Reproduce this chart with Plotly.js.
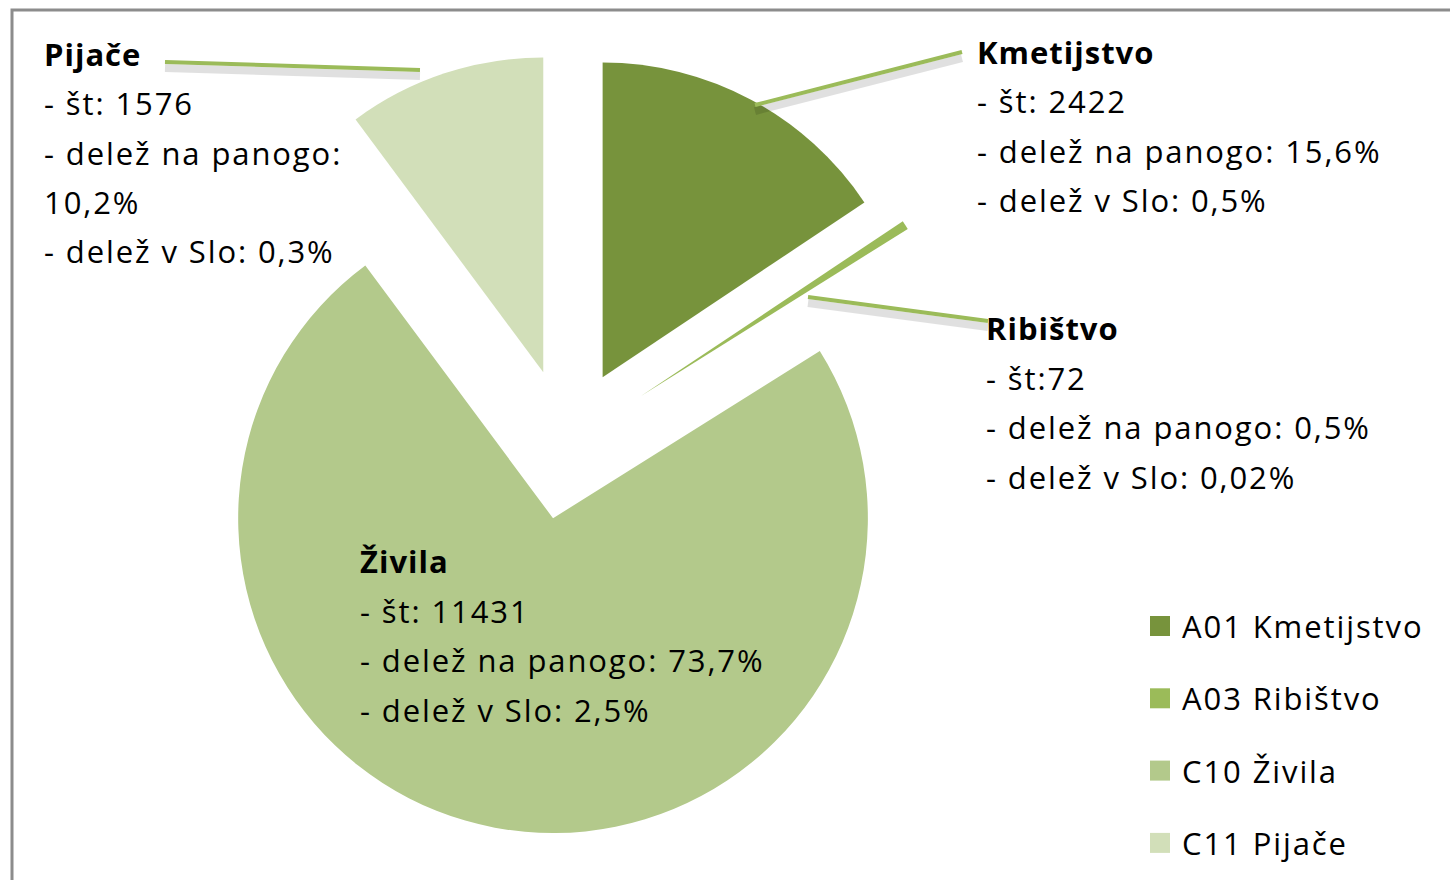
<!DOCTYPE html>
<html>
<head>
<meta charset="utf-8">
<script src="https://cdn.plot.ly/plotly-3.0.1.min.js"></script>
<style>
html,body{margin:0;padding:0;background:#fff;}
#chart{width:1450px;height:880px;}
.annotation-text{letter-spacing:1.9px;}
.annotation-text tspan[style*="bold"]{letter-spacing:1px;}
</style>
</head>
<body>
<div id="chart"></div>
<script>
// ---- data ----
const legendLabels = ['A01 Kmetijstvo', 'A03 Ribištvo', 'C10 Živila', 'C11 Pijače'];
const shortNames = ['Kmetijstvo', 'Ribištvo', 'Živila', 'Pijače'];
const counts = [2422, 72, 11431, 1576];
const shareSector = ['15,6%', '0,5%', '73,7%', '10,2%'];
const shareSlo = ['0,5%', '0,02%', '2,5%', '0,3%'];

// ---- styles ----
const colors = ['#77933c', '#9bbb59', '#b3c98b', '#d2dfb9'];
const pulls = [0.24, 0.28, 0.24, 0.24];
const FONT = '"Open Sans", "Noto Sans", sans-serif';
const FS = 31;
const W = 1450, H = 880;
const px = x => x / W;
const py = y => 1 - y / H;

// label blocks: left x, first line y, line spacing (pixels)
const labelPos = [
  {x: 975, y: 52, dy: 49.3},
  {x: 984, y: 328, dy: 49.7},
  {x: 358, y: 561, dy: 49.7},
  {x: 42, y: 54, dy: 49.3}
];

function labelLines(i) {
  const stSep = i === 1 ? '' : ' ';
  const lines = ['<b>' + shortNames[i] + '</b>', '- št:' + stSep + counts[i]];
  if (i === 3) {
    lines.push('- delež na panogo:');
    lines.push(shareSector[i]);
  } else {
    lines.push('- delež na panogo: ' + shareSector[i]);
  }
  lines.push('- delež v Slo: ' + shareSlo[i]);
  return lines;
}

const annotations = [];
shortNames.forEach((n, i) => {
  const p = labelPos[i];
  labelLines(i).forEach((t, k) => {
    annotations.push({
      xref: 'paper', yref: 'paper', x: px(p.x), y: py(p.y + k * p.dy),
      xanchor: 'left', yanchor: 'middle', showarrow: false, text: t,
      font: {family: FONT, size: FS, color: '#000'}
    });
  });
});

// legend (manual)
const legendY0 = 626, legendDy = 72.3;
const shapes = [];
legendLabels.forEach((l, i) => {
  const cy = legendY0 + i * legendDy;
  shapes.push({type: 'rect', xref: 'paper', yref: 'paper',
    x0: px(1150), x1: px(1170), y0: py(cy - 10), y1: py(cy + 10),
    fillcolor: colors[i], line: {width: 0}});
  annotations.push({xref: 'paper', yref: 'paper', x: px(1180), y: py(cy),
    xanchor: 'left', yanchor: 'middle', showarrow: false, text: l,
    font: {family: FONT, size: FS, color: '#000'}});
});

// leader lines (with soft shadow)
const leaders = [
  [755, 105, 962, 52],
  [808, 297, 988, 321],
  [165, 62, 420, 70]
];
leaders.forEach(([x0, y0, x1, y1]) => {
  shapes.push({type: 'line', xref: 'paper', yref: 'paper',
    x0: px(x0), y0: py(y0 + 6), x1: px(x1), y1: py(y1 + 6),
    line: {color: 'rgba(0,0,0,0.12)', width: 8}});
  shapes.push({type: 'line', xref: 'paper', yref: 'paper',
    x0: px(x0), y0: py(y0), x1: px(x1), y1: py(y1),
    line: {color: '#9bbb59', width: 4}});
});

// outer frame
shapes.push({type: 'rect', xref: 'paper', yref: 'paper',
  x0: px(12), y0: py(10), x1: px(1455), y1: py(890),
  line: {color: '#8c8c8c', width: 3}, fillcolor: 'rgba(0,0,0,0)', layer: 'above'});

const trace = {
  type: 'pie',
  labels: legendLabels,
  values: counts,
  sort: false,
  direction: 'clockwise',
  rotation: 0,
  pull: pulls,
  textinfo: 'none',
  hoverinfo: 'skip',
  marker: {colors: colors, line: {width: 0}},
  domain: {x: [px(164), px(970)], y: [py(847), py(41)]},
  showlegend: false
};

const layout = {
  width: W, height: H,
  margin: {l: 0, r: 0, t: 0, b: 0},
  paper_bgcolor: '#fff',
  showlegend: false,
  annotations: annotations,
  shapes: shapes
};

Plotly.newPlot('chart', [trace], layout, {displayModeBar: false, staticPlot: true});
</script>
</body>
</html>
